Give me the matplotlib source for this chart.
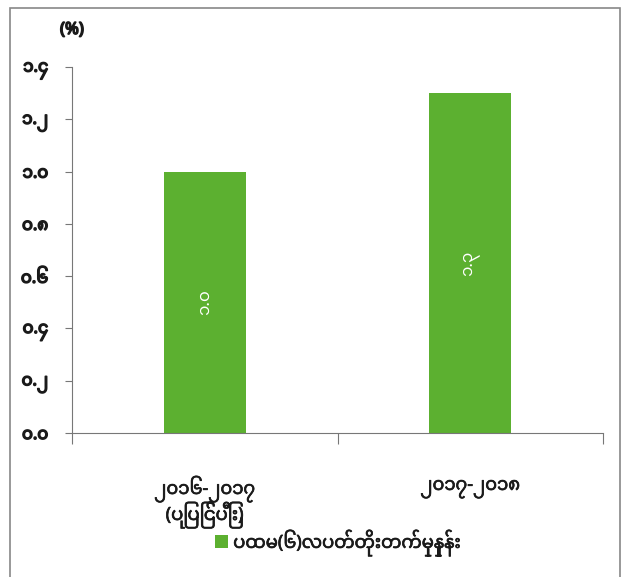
import matplotlib
matplotlib.use("Agg")
import matplotlib.pyplot as plt
import matplotlib.patheffects as pe
from matplotlib import font_manager
from matplotlib.patches import Rectangle

# 데이터
categories = ["၂၀၁၆-၂၀၁၇\n(ပြုပြင်ပြီး)", "၂၀၁၇-၂၀၁၈"]
growth = [1.0, 1.3]
bar_labels = ["၁.၀", "၁.၃"]
y_ticks = [0.0, 0.2, 0.4, 0.6, 0.8, 1.0, 1.2, 1.4]
y_tick_labels = ["၀.၀", "၀.၂", "၀.၄", "၀.၆", "၀.၈", "၁.၀", "၁.၂", "၁.၄"]
legend_label = "ပထမ(၆)လပတ်တိုးတက်မှုနှုန်း"
unit_label = "(%)"

# 미얀마 글꼴이 있으면 사용
names = {f.name for f in font_manager.fontManager.ttflist}
fams = [n for n in ["Noto Sans Myanmar", "Padauk", "Myanmar Text", "Pyidaungsu"] if n in names]
plt.rcParams["font.family"] = fams + ["DejaVu Sans"]

GREEN = "#5cb030"
DARK = "#1a1a1a"
# 굵은 글꼴이 없어서 외곽선으로 두껍게 보이게
heavy = [pe.withStroke(linewidth=1.1, foreground=DARK)]
medium = [pe.withStroke(linewidth=0.5, foreground=DARK)]

fig = plt.figure(figsize=(6.25, 5.77), dpi=100)
ax = fig.add_axes([72 / 625, 1 - 433 / 577, 531 / 625, 366 / 577])

x = [0.5, 1.5]
bars = ax.bar(x, growth, width=0.31, color=GREEN, label=legend_label)
for b, lab in zip(bars, bar_labels):
    ax.text(b.get_x() + b.get_width() / 2, b.get_height() / 2, lab,
            rotation=90, ha="center", va="center", color="white", fontsize=12)

ax.set_xlim(0, 2)
ax.set_ylim(0, 1.4)
ax.set_yticks(y_ticks)
ax.set_yticklabels(y_tick_labels, fontsize=12, color=DARK)
for t in ax.get_yticklabels():
    t.set_path_effects(heavy)
ax.set_xticks([0, 1, 2])
ax.set_xticklabels([])
ax.tick_params(axis="x", direction="out", length=8, color="#777777")
ax.tick_params(axis="y", direction="out", length=5, color="#777777", pad=12)

# 카테고리 라벨 (줄 단위로 배치)
for c, xc in zip(categories, x):
    for i, line in enumerate(c.split("\n")):
        ax.annotate(line, xy=(xc, 0), xycoords=("data", "axes fraction"),
                    xytext=(0, -56 - 26 * i), textcoords="offset pixels",
                    ha="center", va="center", fontsize=13, color=DARK,
                    path_effects=medium)

for s in ["top", "right"]:
    ax.spines[s].set_visible(False)
ax.spines["left"].set_color("#777777")
ax.spines["bottom"].set_color("#777777")

fig.text(72 / 625, 1 - 30 / 577, unit_label, ha="center", va="center",
         fontsize=12, color=DARK, path_effects=heavy)

leg = fig.legend(loc="center", bbox_to_anchor=(338 / 625, 1 - 543 / 577), frameon=False,
                 fontsize=13, handlelength=0.7, handleheight=0.7, handletextpad=0.3)
for t in leg.get_texts():
    t.set_color(DARK)
    t.set_path_effects(medium)

# 바깥 테두리
fig.patches.append(Rectangle((10 / 625, -0.05), 610 / 625, 1.05 - 8 / 577,
                             transform=fig.transFigure, fill=False,
                             edgecolor="#888888", linewidth=1.2))

fig.savefig("out.png", dpi=100)
